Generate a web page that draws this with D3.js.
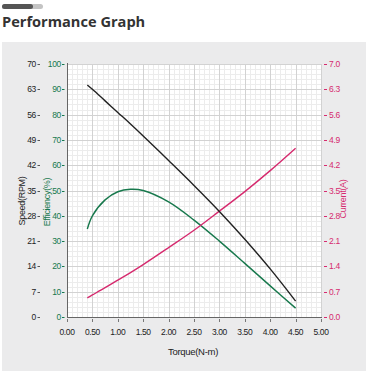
<!DOCTYPE html>
<html><head><meta charset="utf-8">
<script src="https://cdn.jsdelivr.net/npm/d3@7"></script>
<style>
html,body{margin:0;padding:0;background:#fff;}
svg{display:block;}
</style></head>
<body>
<script>
const torque = [0.4, 0.5, 0.75, 1.0, 1.25, 1.5, 2.0, 2.5, 3.0, 3.5, 4.0, 4.5];
const speed = [64.2, 63.0, 59.8, 56.6, 53.4, 50.1, 43.3, 36.4, 29.2, 21.5, 13.3, 4.4];
const efficiency = [34.8, 40.0, 46.3, 49.5, 50.5, 50.0, 45.5, 38.3, 30.0, 21.2, 12.3, 3.5];
const current = [0.53, 0.61, 0.81, 1.02, 1.23, 1.45, 1.92, 2.40, 2.93, 3.47, 4.05, 4.67];
const xTicks = [0, 0.5, 1, 1.5, 2, 2.5, 3, 3.5, 4, 4.5, 5];
const speedTicks = [0, 7, 14, 21, 28, 35, 42, 49, 56, 63, 70];
const effTicks = [0, 10, 20, 30, 40, 50, 60, 70, 80, 90, 100];
const currentTicks = [0, 0.7, 1.4, 2.1, 2.8, 3.5, 4.2, 4.9, 5.6, 6.3, 7.0];

const W = 374, H = 374;
const L = 67, R = 321, T = 64, B = 317;
const GREEN = "#17784c", PINK = "#d62a6e", DARK = "#222";

const svg = d3.select("body").append("svg").attr("width", W).attr("height", H);

// header
svg.append("rect").attr("x", 2).attr("y", 4).attr("width", 41).attr("height", 5).attr("rx", 2.5).attr("fill", "#c4c4c4");
svg.append("rect").attr("x", 2).attr("y", 4).attr("width", 31).attr("height", 5).attr("rx", 2.5).attr("fill", "#555");
svg.append("text").attr("x", 2).attr("y", 27).text("Performance Graph")
  .attr("font-family", "Open Sans").attr("font-weight", 700).attr("font-size", 14.6).attr("fill", "#333");

// panel
svg.append("rect").attr("x", 2).attr("y", 42).attr("width", 364).attr("height", 329).attr("fill", "#ebebec");

const x = d3.scaleLinear().domain([0, 5]).range([L, R]);
const yS = d3.scaleLinear().domain([0, 70]).range([B, T]);
const yE = d3.scaleLinear().domain([0, 100]).range([B, T]);
const yC = d3.scaleLinear().domain([0, 7]).range([B, T]);

svg.append("rect").attr("x", L).attr("y", T).attr("width", R - L).attr("height", B - T).attr("fill", "#fff");

const g = svg.append("g");
// minor grid
g.selectAll(".mx").data(d3.range(0, 51).map(i => i / 10)).join("line")
  .attr("x1", d => Math.round(x(d)) + 0.5).attr("x2", d => Math.round(x(d)) + 0.5)
  .attr("y1", T).attr("y2", B).attr("stroke", "#ececec").attr("stroke-width", 1);
g.selectAll(".my").data(d3.range(0, 51).map(i => i * 2)).join("line")
  .attr("y1", d => Math.round(yE(d)) + 0.5).attr("y2", d => Math.round(yE(d)) + 0.5)
  .attr("x1", L).attr("x2", R).attr("stroke", "#ececec").attr("stroke-width", 1);
// major grid
g.selectAll(".Mx").data(xTicks).join("line")
  .attr("x1", d => Math.round(x(d)) + 0.5).attr("x2", d => Math.round(x(d)) + 0.5)
  .attr("y1", T).attr("y2", B).attr("stroke", "#d2d2d2").attr("stroke-width", 1);
g.selectAll(".My").data(effTicks).join("line")
  .attr("y1", d => Math.round(yE(d)) + 0.5).attr("y2", d => Math.round(yE(d)) + 0.5)
  .attr("x1", L).attr("x2", R).attr("stroke", "#d2d2d2").attr("stroke-width", 1);

// axis lines
svg.append("line").attr("x1", L + 0.5).attr("x2", L + 0.5).attr("y1", T - 1).attr("y2", B + 1).attr("stroke", "#666");
svg.append("line").attr("x1", L).attr("x2", R + 1).attr("y1", B + 0.5).attr("y2", B + 0.5).attr("stroke", "#666");

const font = "Liberation Sans";
// x ticks
const xt = svg.append("g").attr("font-family", font).attr("font-size", 8.5).attr("letter-spacing", -0.4).attr("fill", "#222");
xt.selectAll("line").data(xTicks).join("line")
  .attr("x1", d => Math.round(x(d)) + 0.5).attr("x2", d => Math.round(x(d)) + 0.5)
  .attr("y1", B + 2).attr("y2", B + 5).attr("stroke", "#777");
xt.selectAll("text").data(xTicks).join("text")
  .attr("x", d => x(d)).attr("y", B + 18).attr("text-anchor", "middle").text(d => d.toFixed(2));

// speed labels
const sp = svg.append("g").attr("font-family", font).attr("font-size", 8.5).attr("letter-spacing", -0.3);
sp.selectAll("text").data(speedTicks).join("text")
  .attr("x", 36).attr("y", d => yS(d) + 3).attr("text-anchor", "end").attr("fill", "#222").text(d => d);
sp.selectAll("line").data(speedTicks).join("line")
  .attr("x1", 37.5).attr("x2", 40).attr("y1", d => Math.round(yS(d)) + 0.5).attr("y2", d => Math.round(yS(d)) + 0.5).attr("stroke", "#555");

// efficiency labels
const ef = svg.append("g").attr("font-family", font).attr("font-size", 8.5).attr("letter-spacing", -0.3);
ef.selectAll("text").data(effTicks).join("text")
  .attr("x", 61).attr("y", d => yE(d) + 3).attr("text-anchor", "end").attr("fill", GREEN).text(d => d);
ef.selectAll("line").data(effTicks).join("line")
  .attr("x1", 62).attr("x2", 64.5).attr("y1", d => Math.round(yE(d)) + 0.5).attr("y2", d => Math.round(yE(d)) + 0.5).attr("stroke", GREEN);

// current labels
const cu = svg.append("g").attr("font-family", font).attr("font-size", 8.5).attr("letter-spacing", -0.3);
cu.selectAll("text").data(currentTicks).join("text")
  .attr("x", 329).attr("y", d => yC(d) + 3).attr("fill", PINK).text(d => d.toFixed(1));
cu.selectAll("line").data(currentTicks).join("line")
  .attr("x1", 324).attr("x2", 327).attr("y1", d => Math.round(yC(d)) + 0.5).attr("y2", d => Math.round(yC(d)) + 0.5).attr("stroke", PINK);

// axis titles
svg.append("text").attr("transform", "translate(25,201) rotate(-90)").attr("text-anchor", "middle")
  .attr("font-family", font).attr("font-size", 9).attr("letter-spacing", -0.3).attr("fill", "#222").text("Speed(RPM)");
svg.append("text").attr("transform", "translate(50,202) rotate(-90)").attr("text-anchor", "middle")
  .attr("font-family", font).attr("font-size", 9).attr("letter-spacing", -0.3).attr("fill", GREEN).text("Efficiency(%)");
svg.append("text").attr("transform", "translate(346,199) rotate(-90)").attr("text-anchor", "middle")
  .attr("font-family", font).attr("font-size", 9).attr("letter-spacing", -0.3).attr("fill", PINK).text("Current(A)");
svg.append("text").attr("x", 193).attr("y", 355).attr("text-anchor", "middle")
  .attr("font-family", font).attr("font-size", 9.5).attr("letter-spacing", -0.3).attr("fill", "#222").text("Torque(N-m)");

// lines
const mk = (ys, sc) => d3.line().x((d, i) => x(torque[i])).y(d => sc(d)).curve(d3.curveCatmullRom)(ys);
svg.append("path").attr("d", mk(efficiency, yE)).attr("fill", "none").attr("stroke", GREEN).attr("stroke-width", 1.4);
svg.append("path").attr("d", mk(current, yC)).attr("fill", "none").attr("stroke", PINK).attr("stroke-width", 1.4);
svg.append("path").attr("d", mk(speed, yS)).attr("fill", "none").attr("stroke", DARK).attr("stroke-width", 1.4);
</script>
</body></html>
